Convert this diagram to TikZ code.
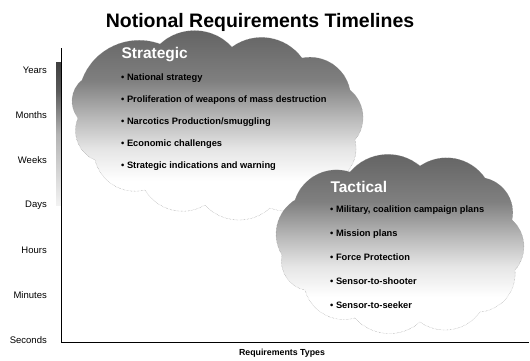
\documentclass[tikz,border=0pt]{standalone}
\usepackage{fontspec}
\setmainfont{Liberation Sans}
\usetikzlibrary{positioning}

% shadings fill the path with their middle part (25bp to 75bp)
\pgfdeclareverticalshading{cloudfade}{100bp}{color(0bp)=(white); color(36bp)=(white); color(44bp)=(black!10); color(52bp)=(black!28); color(61bp)=(black!50); color(75bp)=(black!62); color(100bp)=(black!62)}
\pgfdeclareverticalshading{barfade}{100bp}{color(0bp)=(white); color(25bp)=(black!5); color(50bp)=(black!30); color(65bp)=(black!65); color(75bp)=(black!75); color(100bp)=(black!75)}

\tikzset{
  puff/.style={bend left=45},
  cloudline/.style={draw=black!45, densely dotted, thin, shading=cloudfade},
  cloudhead/.style={anchor=west, text=white, font=\bfseries\fontsize{15.5}{18}\selectfont},
  item/.style={anchor=west, inner sep=0pt, font=\bfseries\fontsize{9.3}{11}\selectfont},
  ticklabel/.style={anchor=east, inner sep=0pt, font=\fontsize{9.5}{11}\selectfont},
}

\begin{document}
\begin{tikzpicture}[x=1pt, y=-1pt]
\useasboundingbox[fill=white] (0,0) rectangle (530,360);

\node[font=\bfseries\fontsize{19.5}{22}\selectfont] (title) at (260,22) {Notional Requirements Timelines};

% time axis
\coordinate (ytop) at (61,48);
\coordinate (origin) at (61,342);
\coordinate (xend) at (529,342);
\shade[shading=barfade] (56,62) rectangle (61,205);
\draw[thick] (ytop) -- (origin) -- (xend);
\foreach \lab [count=\i] in {Years, Months, Weeks, Days, Hours, Minutes, Seconds}
	\node[ticklabel] (t\i) at (47, 70+45*\i-45) {\lab};
\node[font=\bfseries\fontsize{8.8}{10}\selectfont] (xlabel) at (282,353) {Requirements Types};

% strategic
\path[cloudline] (82,80) to[puff] (160,44) to[puff] (232,47) to[puff] (302,58) to[puff] (350,90)
	to[puff] (355,140) to[puff] (330,182) to[puff] (270,208) to[puff] (205,205) to[puff] (145,190)
	to[puff] (95,160) to[puff] (78,118) to[puff] (82,80) -- cycle;
\node[cloudhead] (strathead) at (118,55) {Strategic};
\foreach \txt [count=\i] in {National strategy, Proliferation of weapons of mass destruction,
	Narcotics Production/smuggling, Economic challenges, Strategic indications and warning}
	\node[item] (s\i) at (121, 78+22*\i-22) {\textbullet\ \txt};

% tactical
\path[cloudline] (295,200) to[puff] (350,172) to[puff] (420,166) to[puff] (485,178) to[puff] (512,220)
	to[puff] (515,270) to[puff] (480,312) to[puff] (420,322) to[puff] (355,318) to[puff] (305,290)
	to[puff] (282,255) to[puff] (295,200) -- cycle;
\node[cloudhead] (tacthead) at (327,187) {Tactical};
\foreach \txt [count=\i] in {{Military, coalition campaign plans}, Mission plans,
	Force Protection, Sensor-to-shooter, Sensor-to-seeker}
	\node[item] (c\i) at (330, 210+23.75*\i-23.75) {\textbullet\ \txt};
\end{tikzpicture}
\end{document}
